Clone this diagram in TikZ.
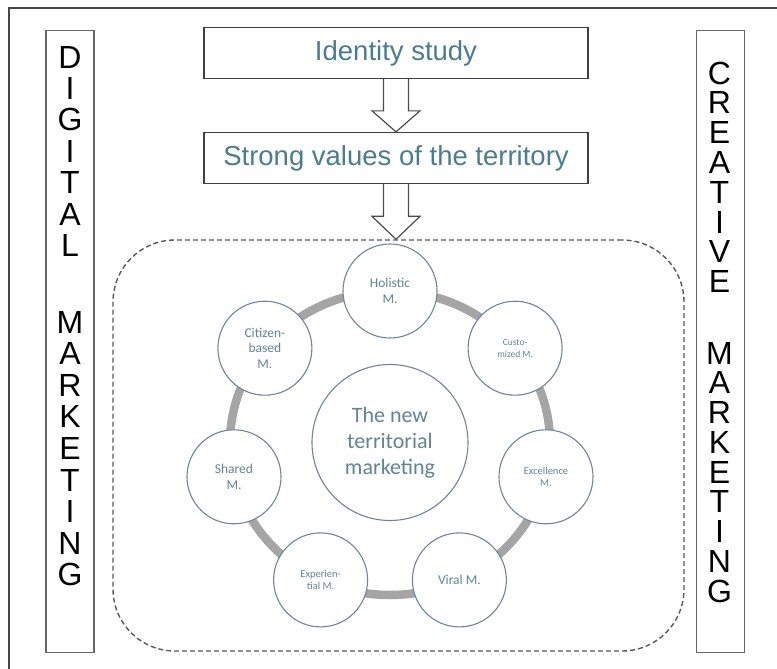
\documentclass[tikz,border=0pt]{standalone}
\usepackage{fontspec}
\setmainfont{Liberation Sans}
\newfontfamily\calfont{Carlito}
\usetikzlibrary{calc}
\definecolor{tealtext}{RGB}{74,125,142}
\definecolor{circtext}{RGB}{98,133,148}
\definecolor{circborder}{RGB}{112,132,158}
\definecolor{ringgray}{RGB}{165,165,165}
\tikzset{
  frame/.style={draw=black!72, line width=1.8},
  sidebox/.style={draw=black!60, line width=1.3, fill=white, minimum width=48, minimum height=622, inner sep=0},
  letter/.style={inner sep=0, font=\fontsize{32}{32}\selectfont, text=black},
  topbox/.style={draw=black!75, line width=1.3, fill=white, minimum width=384, minimum height=51, inner sep=0, font=\fontsize{27.5}{27.5}\selectfont, text=tealtext},
  blockarrow/.style={draw=black!70, line width=1.2, fill=white, line join=miter},
  groupbox/.style={draw=black!65, line width=1.4, dash pattern=on 5pt off 3pt, rounded corners=62, minimum width=571, minimum height=411, inner sep=0},
  ring/.style={draw=ringgray, line width=8.5},
  mcirc/.style={circle, draw=circborder, line width=1.1, fill=white, minimum size=94, inner sep=0, align=center, text=circtext, font=\calfont\fontsize{13.5}{15.5}\selectfont},
  smalltxt/.style={font=\calfont\fontsize{10.5}{12.5}\selectfont},
  corecirc/.style={circle, draw=circborder, line width=1.1, fill=white, minimum size=156, inner sep=0, align=center, text=circtext, font=\calfont\fontsize{22}{26}\selectfont}
}
\begin{document}
\begin{tikzpicture}[x=1pt,y=-1pt]
\useasboundingbox (0,0) rectangle (777,669);
\clip (0,0) rectangle (777,669);
\fill[white] (0,0) rectangle (777,669);
% outer frame (runs off the right and bottom edges)
\draw[frame] (9,8) rectangle (790,690);

% side boxes
\node[sidebox] (dbox) at (70,341.5) {};
\node[sidebox] (cbox) at (720.5,341.5) {};
\foreach \l [count=\i from 0] in {D,I,G,I,T,A,L}
  \node[letter] (da\i) at (70,{57+\i*31.4}) {\l};
\foreach \l [count=\i from 0] in {M,A,R,K,E,T,I,N,G}
  \node[letter] (db\i) at (70,{322+\i*31.6}) {\l};
\foreach \l [count=\i from 0] in {C,R,E,A,T,I,V,E}
  \node[letter] (ca\i) at (719.5,{73+\i*29.8}) {\l};
\foreach \l [count=\i from 0] in {M,A,R,K,E,T,I,N,G}
  \node[letter] (cb\i) at (719.5,{353+\i*29.75}) {\l};

% top boxes
\node[topbox] (id) at (396,53) {Identity study};
\node[topbox] (sv) at (396,158) {Strong values of the territory};

% dashed group
\node[groupbox] (group) at (398.5,445.5) {};
\coordinate (tip1) at (sv.north);
\coordinate (tip2) at (sv.south |- group.north);

% block arrows
\draw[blockarrow] ($(id.south)+(-12.5,0)$) -- ($(tip1)+(-12.5,-21)$) -- ($(tip1)+(-24,-21)$) -- (tip1)
  -- ($(tip1)+(24,-21)$) -- ($(tip1)+(12.5,-21)$) -- ($(id.south)+(12.5,0)$);
\draw[blockarrow] ($(sv.south)+(-12.5,0)$) -- ($(tip2)+(-12.5,-23)$) -- ($(tip2)+(-24,-23)$) -- (tip2)
  -- ($(tip2)+(24,-23)$) -- ($(tip2)+(12.5,-23)$) -- ($(sv.south)+(12.5,0)$);

% ring
\coordinate (ringc) at (390,443);
\draw[ring] (ringc) ellipse[x radius=160, y radius=152];

% circles
\node[corecirc] (core) at (390,442.5) {The new\\territorial\\marketing};
\node[mcirc] (hol) at (390,291) {Holistic\\M.};
\node[mcirc, font=\calfont\fontsize{9.5}{12}\selectfont] (cus) at (515.1,348.2) {Custo-\\mized M.};
\node[mcirc, smalltxt] (exc) at (546,476.8) {Excellence\\M.};
\node[mcirc] (vir) at (459.4,579.9) {Viral M.};
\node[mcirc, smalltxt] (exp) at (320.6,579.9) {Experien-\\tial M.};
\node[mcirc] (sha) at (234,476.8) {Shared\\M.};
\node[mcirc] (cit) at (264.9,348.2) {Citizen-\\based\\M.};
\end{tikzpicture}
\end{document}
